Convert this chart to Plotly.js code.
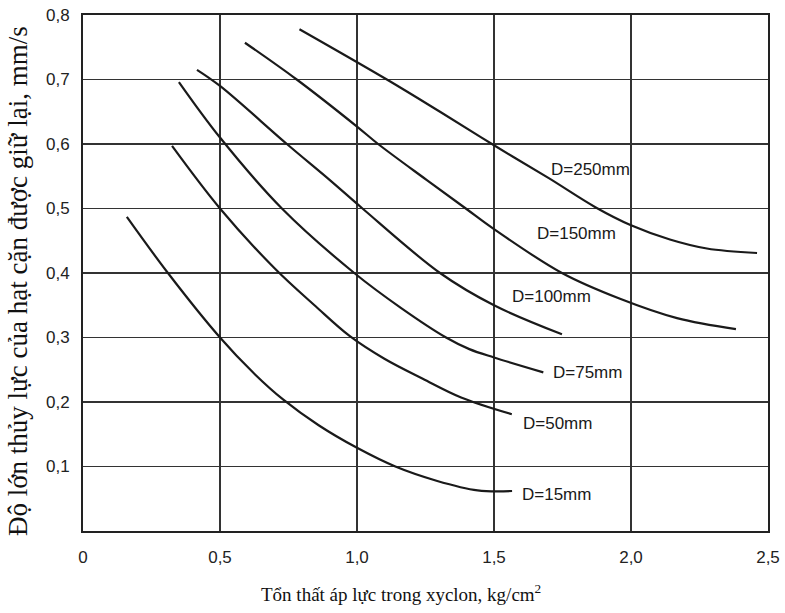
<!DOCTYPE html>
<html><head><meta charset="utf-8">
<script src="https://cdn.plot.ly/plotly-3.0.1.min.js"></script>
<style>html,body{margin:0;padding:0;background:#fff}</style>
</head><body><div id="chart" style="width:785px;height:613px"></div>
<script>
// Tick labels
const xTickVals = [0, 0.5, 1.0, 1.5, 2.0, 2.5];
const xTickText = ["0", "0,5", "1,0", "1,5", "2,0", "2,5"];
const yTickVals = [0.1, 0.2, 0.3, 0.4, 0.5, 0.6, 0.7, 0.8];
const yTickText = ["0,1", "0,2", "0,3", "0,4", "0,5", "0,6", "0,7", "0,8"];

// Series (pressure loss kg/cm2 -> hydraulic size mm/s)
const d15X  = [0.16, 0.31, 0.5, 0.62, 0.73, 0.86, 1.0, 1.14, 1.29, 1.44, 1.566];
const d15Y  = [0.487, 0.4, 0.3, 0.246, 0.204, 0.164, 0.129, 0.1, 0.078, 0.063, 0.062];
const d50X  = [0.325, 0.5, 0.7, 0.85, 0.974, 1.10, 1.24, 1.38, 1.565];
const d50Y  = [0.597, 0.5, 0.407, 0.348, 0.302, 0.267, 0.236, 0.207, 0.181];
const d75X  = [0.35, 0.5, 0.726, 0.99, 1.16, 1.325, 1.41, 1.5, 1.68];
const d75Y  = [0.696, 0.61, 0.5, 0.4, 0.346, 0.3, 0.282, 0.269, 0.246];
const d100X = [0.416, 0.5, 0.744, 0.901, 1.02, 1.303, 1.5, 1.748];
const d100Y = [0.715, 0.69, 0.6, 0.544, 0.5, 0.4, 0.35, 0.305];
const d150X = [0.591, 0.78, 1.0, 1.077, 1.255, 1.397, 1.5, 1.748, 1.96, 2.168, 2.383];
const d150Y = [0.757, 0.70, 0.627, 0.6, 0.544, 0.5, 0.468, 0.4, 0.36, 0.33, 0.313];
const d250X = [0.79, 1.109, 1.303, 1.5, 1.70, 1.87, 2.0, 2.142, 2.277, 2.46];
const d250Y = [0.778, 0.70, 0.65, 0.598, 0.547, 0.502, 0.474, 0.452, 0.438, 0.431];

// Curve labels
const labelText = ["D=250mm", "D=150mm", "D=100mm", "D=75mm", "D=50mm", "D=15mm"];
const labelX = [1.70, 1.65, 1.558, 1.708, 1.599, 1.595];
const labelY = [0.561, 0.462, 0.363, 0.245, 0.167, 0.056];

const series = [[d15X, d15Y], [d50X, d50Y], [d75X, d75Y], [d100X, d100Y], [d150X, d150Y], [d250X, d250Y]];
const traces = series.map(s => ({
  x: s[0], y: s[1], type: 'scatter', mode: 'lines',
  line: {color: '#1a1a1a', width: 2.2, shape: 'spline', smoothing: 1},
  hoverinfo: 'skip', showlegend: false
}));

const sans = '"Liberation Sans", Arial, sans-serif';
const serif = '"Liberation Serif", "Times New Roman", serif';

const annotations = labelText.map((t, i) => ({
  x: labelX[i], y: labelY[i], xref: 'x', yref: 'y', text: t, showarrow: false,
  xanchor: 'left', yanchor: 'middle',
  font: {family: sans, size: 17, color: '#1a1a1a'}
}));

// Axis titles as annotations for exact placement
annotations.push({
  xref: 'paper', yref: 'paper', x: 0.464, y: -0.120, xanchor: 'center', yanchor: 'middle',
  text: 'Tổn thất áp lực trong xyclon, kg/cm<sup>2</sup>', showarrow: false,
  font: {family: serif, size: 19, color: '#111'}
});
annotations.push({
  xref: 'paper', yref: 'paper', x: -0.095, y: 0.4845, xanchor: 'center', yanchor: 'middle',
  textangle: -90, text: 'Độ lớn thủy lực của hạt cặn được giữ lại, mm/s', showarrow: false,
  font: {family: serif, size: 27, color: '#111'}
});

const layout = {
  width: 785, height: 613,
  margin: {l: 83, r: 17, t: 15, b: 82},
  paper_bgcolor: '#fff', plot_bgcolor: '#fff',
  showlegend: false,
  separators: ',.',
  xaxis: {
    range: [0, 2.5], tickvals: xTickVals, ticktext: xTickText,
    showgrid: true, gridcolor: '#333', gridwidth: 1.6,
    showline: true, linecolor: '#222', linewidth: 2, mirror: true,
    zeroline: false, ticks: '', ticklabelstandoff: 10,
    tickfont: {family: sans, size: 17, color: '#222'}
  },
  yaxis: {
    range: [0, 0.8], tickvals: yTickVals, ticktext: yTickText,
    showgrid: true, gridcolor: '#333', gridwidth: 1.6,
    showline: true, linecolor: '#222', linewidth: 2, mirror: true,
    zeroline: false, ticks: '', ticklabelstandoff: 8,
    tickfont: {family: sans, size: 17, color: '#222'}
  },
  annotations: annotations
};

Plotly.newPlot('chart', traces, layout, {staticPlot: true});
</script></body></html>
